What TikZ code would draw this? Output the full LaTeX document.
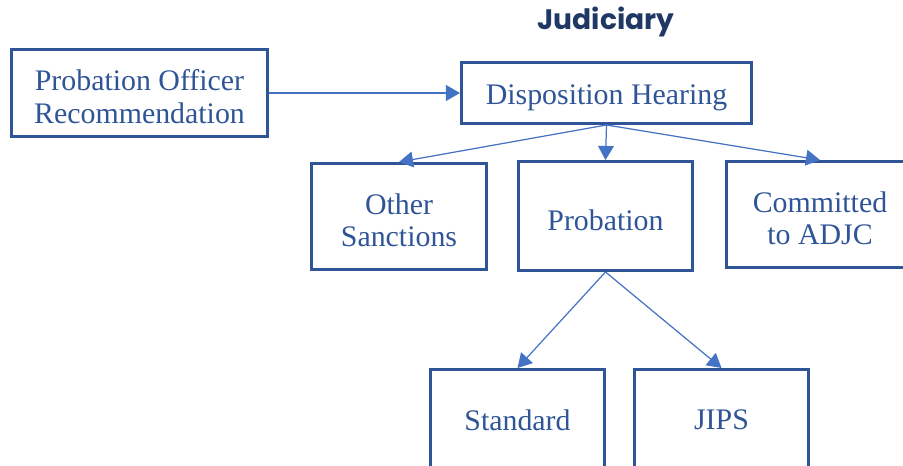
\documentclass[tikz,border=0pt]{standalone}
\usepackage{fontspec}
\setmainfont{Liberation Serif}
\newfontfamily\headfont{Poppins}
\usetikzlibrary{arrows.meta}
\definecolor{boxblue}{HTML}{2F5597}
\definecolor{arrowblue}{HTML}{4472C4}
\definecolor{headblue}{HTML}{1F3864}
\newcommand{\lift}{\rule{0pt}{16.3pt}}
\begin{document}
\begin{tikzpicture}[x=0.02cm,y=-0.02cm,
  box/.style={draw=boxblue,line width=1.7pt,text=boxblue,align=center,
    font=\fontsize{17}{18.5}\selectfont,inner sep=0pt},
  link/.style={draw=arrowblue,line width=0.7pt,-{Triangle[length=8pt,width=9pt]}}]
\clip (0,0) rectangle (903,466);
\node[font=\headfont\bfseries\fontsize{16}{19}\selectfont,text=headblue] (head) at (606,22) {Judiciary};

\node[box,minimum width=5.12cm,minimum height=1.74cm] (officer) at (139.5,93) {\lift Probation Officer\\Recommendation};
\node[box,minimum width=5.8cm,minimum height=1.22cm] (hearing) at (606.5,93) {\lift Disposition Hearing};

\node[box,minimum width=3.5cm,minimum height=2.12cm] (other) at (399,216.5) {\lift Other\\Sanctions};
\node[box,minimum width=3.48cm,minimum height=2.18cm] (probation) at (605.5,216) {\lift Probation};
\node[box,minimum width=3.74cm,minimum height=2.12cm] (adjc) at (820,214.5) {\lift Committed\\to ADJC};

\node[box,minimum width=3.48cm,minimum height=2.02cm] (standard) at (517.5,420) {Standard};
\node[box,minimum width=3.48cm,minimum height=2.02cm] (jips) at (721.5,420) {JIPS};

\draw[link] (officer) -- (hearing);
\draw[link] (hearing.south) -- (other.north);
\draw[link] (hearing.south) -- (probation.north);
\draw[link] (hearing.south) -- (adjc.north);
\draw[link] (probation.south) -- (standard.north);
\draw[link] (probation.south) -- (jips.north);
\end{tikzpicture}
\end{document}
